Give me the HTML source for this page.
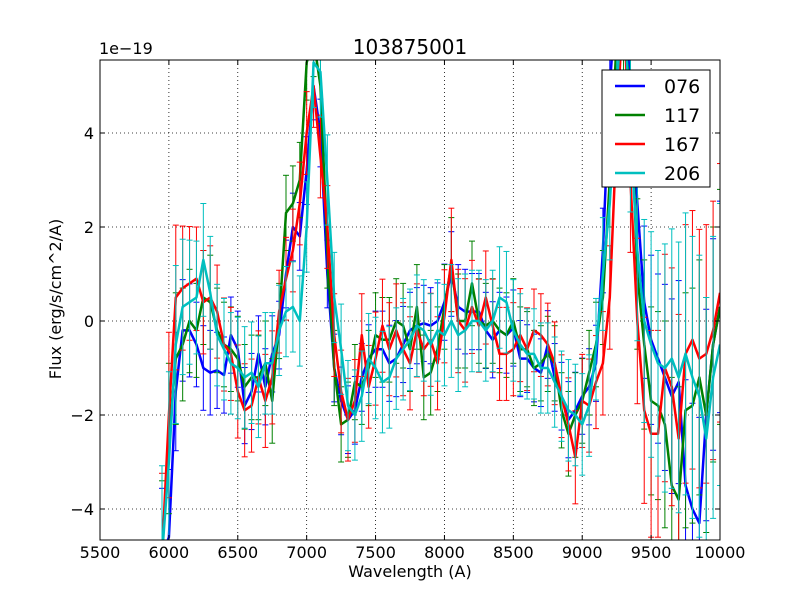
<!DOCTYPE html>
<html><head><meta charset="utf-8"><style>
html,body{margin:0;padding:0;background:#fff;overflow:hidden;width:800px;height:600px}
svg{display:block}
</style></head><body>
<svg id="c" width="800" height="600" xmlns="http://www.w3.org/2000/svg" font-family="'DejaVu Sans','Liberation Sans',sans-serif">
<defs><clipPath id="pc"><rect x="100" y="60" width="620" height="480"/></clipPath></defs>
<rect x="0" y="0" width="800" height="600" fill="#fff"/>
<g id="grid"></g>
<g id="series" clip-path="url(#pc)"></g>
<rect x="100" y="60" width="620" height="480" fill="none" stroke="#000" stroke-width="1"/>
<g id="axes"></g>
<text x="410" y="54" text-anchor="middle" font-size="20">103875001</text>
<text x="99" y="54" font-size="16">1e−19</text>
<text x="410" y="577" text-anchor="middle" font-size="16">Wavelength (A)</text>
<text transform="translate(61,299) rotate(-90)" text-anchor="middle" font-size="16">Flux (erg/s/cm^2/A)</text>
<g id="legend"></g>
</svg>
<script>
const wl=[];for(let w=5950;w<=10000;w+=50)wl.push(w);
const s076=[-5,-4.6,-1.5,-0.2,-0.2,-0.5,-1.0,-1.1,-1.05,-1.15,-0.3,-0.6,-1.8,-1.5,-0.7,-1.4,-0.7,-0.3,1.0,2.0,1.8,3.2,5.0,4.0,1.0,-1.0,-1.7,-2.1,-1.9,-1.2,-0.8,-0.6,-0.6,-0.9,-0.8,-0.5,-0.2,-0.1,-0.05,-0.1,0.0,0.4,1.0,0.3,0.2,0.2,0.2,-0.2,-0.4,-0.2,-0.3,-0.15,-0.8,-0.8,-1.0,-1.1,-0.5,-1.2,-1.6,-2.1,-1.9,-1.6,-1.4,-0.9,1.5,5,7,7,5,2.5,0.4,-0.4,-0.8,-1.2,-1.6,-1.3,-3.5,-4.0,-4.3,-2,-0.5,0.3];
const s117=[-5,-2.5,-0.8,-0.5,0.0,-0.2,0.5,0.4,-0.2,-0.5,-0.6,-0.8,-1.4,-1.2,-1.2,-0.9,-1.7,0.0,2.3,2.5,3.0,5.5,6,5,1.5,-1.0,-2.2,-2.1,-1.3,-1.4,-1.0,-0.3,-0.4,-0.4,0.0,-0.1,-0.6,0.3,-1.2,-1.1,-0.6,0.3,1.2,0.0,0.0,0.8,0.0,-0.1,0.0,-0.2,-0.3,0.0,-0.6,-0.6,-1.0,-0.9,-0.7,-0.9,-1.9,-2.4,-2.0,-1.7,-1.1,-0.5,0.5,3,6,6,5,1.0,-0.5,-1.7,-1.8,-2.2,-3.5,-3.8,-1.9,-1.8,-1.2,-2.0,-0.5,0.3];
const s167=[-5,-2,0.5,0.7,0.8,0.9,0.4,0.5,0.2,-0.5,-0.7,-1.5,-1.9,-1.8,-1.2,-1.7,-1.2,0.2,0.9,1.5,2.5,4,5.0,3.5,2.0,-0.3,-1.5,-2.1,-1.7,-0.3,-1.4,-0.8,-0.1,-0.6,-0.2,-0.6,-0.9,-0.2,-0.6,-0.4,-0.9,0.1,1.3,0.0,-0.2,0.3,-0.1,0.5,-0.1,-0.7,-0.7,-0.6,-0.3,-0.6,-0.2,-0.3,-0.5,-0.9,-1.6,-2.2,-2.9,-1.7,-1.8,-1.3,-0.9,0.5,4,7,3,0,-1.9,-2.4,-2.4,-1.0,-1.4,-2.5,-0.7,-0.4,-0.8,-0.7,-0.2,0.6];
const s206=[-5,-3,-0.5,0.3,0.4,0.5,1.3,0.6,-0.3,-0.6,-0.9,-1.0,-1.2,-1.1,-1.4,-0.9,-0.9,-0.2,0.2,0.3,0.0,2.0,5.5,5.3,3,0.5,-0.6,-1.8,-2.0,-1.6,-0.8,-1.0,-1.3,-1.2,-0.8,-0.6,-0.4,-0.1,-0.2,-0.5,-0.2,-0.3,0.0,-0.3,-0.2,0.0,0.0,-0.2,0.0,0.5,0.4,-0.2,-0.5,-0.7,-0.7,-1.0,-1.0,-1.3,-1.6,-1.9,-2.0,-2.2,-1.8,-0.6,1.0,2.5,5,7,4,1.5,0.0,-0.5,-0.9,-1.0,-0.8,-1.2,-0.7,-1.2,-1.6,-2.5,-1.2,-0.5];
const errs=[1.6,1.6,1.4,1.2,1.1,1.0,1.0,1.0,0.9,0.9,0.9,0.9,0.9,0.9,0.9,0.9,0.9,0.8,0.8,0.8,0.8,0.8,0.8,0.8,0.8,0.8,0.8,0.8,0.8,0.8,0.8,0.9,0.9,0.9,0.9,0.9,0.9,0.9,0.9,0.9,0.9,0.9,1.0,1.0,1.0,0.9,0.9,0.9,0.9,0.9,0.9,0.9,0.9,0.8,0.8,0.8,0.8,0.8,0.8,0.9,0.9,0.9,0.9,0.9,1.0,1.0,1.0,1.2,1.4,1.6,1.8,2.0,2.0,2.2,2.3,2.4,2.5,2.5,2.5,2.5,2.5,2.5];
const seriesNames=["076","117","167","206"];
const colors=["#0000ff","#008000","#ff0000","#00bfbf"];
const xTicks=[5500,6000,6500,7000,7500,8000,8500,9000,9500,10000];
const yTicks=[-4,-2,0,2,4];
const NS="http://www.w3.org/2000/svg";
const X=v=>100+(v-5500)/4500*620;
const Y=v=>321-v*47;
function mk(t,a,p){const e=document.createElementNS(NS,t);for(const k in a)e.setAttribute(k,a[k]);p.appendChild(e);return e;}
const grid=document.getElementById('grid'),axes=document.getElementById('axes');
xTicks.forEach(t=>{const x=X(t);
 if(t>5500&&t<10000){const g=mk('line',{x1:x,x2:x,y1:60,y2:540,stroke:'#000','stroke-dasharray':'1,3','stroke-width':0.8},grid);}
 mk('line',{x1:x,x2:x,y1:540,y2:535,stroke:'#000'},axes);mk('line',{x1:x,x2:x,y1:60,y2:65,stroke:'#000'},axes);
 const tx=mk('text',{x:x,y:558,'text-anchor':'middle','font-size':16},axes);tx.textContent=t;
 });
yTicks.forEach(t=>{const y=Y(t);
 const g=mk('line',{x1:100,x2:720,y1:y,y2:y,stroke:'#000','stroke-dasharray':'1,3','stroke-width':0.8},grid);
 
 mk('line',{x1:100,x2:105,y1:y,y2:y,stroke:'#000'},axes);mk('line',{x1:720,x2:715,y1:y,y2:y,stroke:'#000'},axes);
 const tx=mk('text',{x:94,y:y+6,'text-anchor':'end','font-size':16},axes);tx.textContent=(t<0?'\u2212'+(-t):t);
 });
const sg=document.getElementById('series');
[s076,s117,s167,s206].forEach((s,i)=>{
 const g=mk('g',{},sg);
 
 
 s.forEach((v,j)=>{const x=X(wl[j]),e=errs[j]*(0.9+0.1*i);
  const y1=Y(v-e),y2=Y(v+e);
  mk('line',{x1:x,x2:x,y1:y1,y2:y2,stroke:colors[i],'stroke-width':1},g);
  mk('line',{x1:x-3,x2:x+3,y1:y1,y2:y1,stroke:colors[i],'stroke-width':1},g);
  mk('line',{x1:x-3,x2:x+3,y1:y2,y2:y2,stroke:colors[i],'stroke-width':1},g);});
 const p=mk('polyline',{points:s.map((v,j)=>X(wl[j])+','+Y(v)).join(' '),fill:'none',stroke:colors[i],'stroke-width':2.5,'stroke-linejoin':'round'},g);
 
 
});
const lg=document.getElementById('legend');
mk('rect',{x:602,y:70,width:108,height:117,fill:'#fff',stroke:'#000','stroke-width':1},lg);
seriesNames.forEach((n,i)=>{const y=86+i*29;
 const e=mk('g',{},lg);
 
 
 mk('line',{x1:615,x2:645,y1:y,y2:y,stroke:colors[i],'stroke-width':2.5},e);
 const t=mk('text',{x:664,y:y+7,'font-size':19},e);t.textContent=n;});
</script>
</body></html>
